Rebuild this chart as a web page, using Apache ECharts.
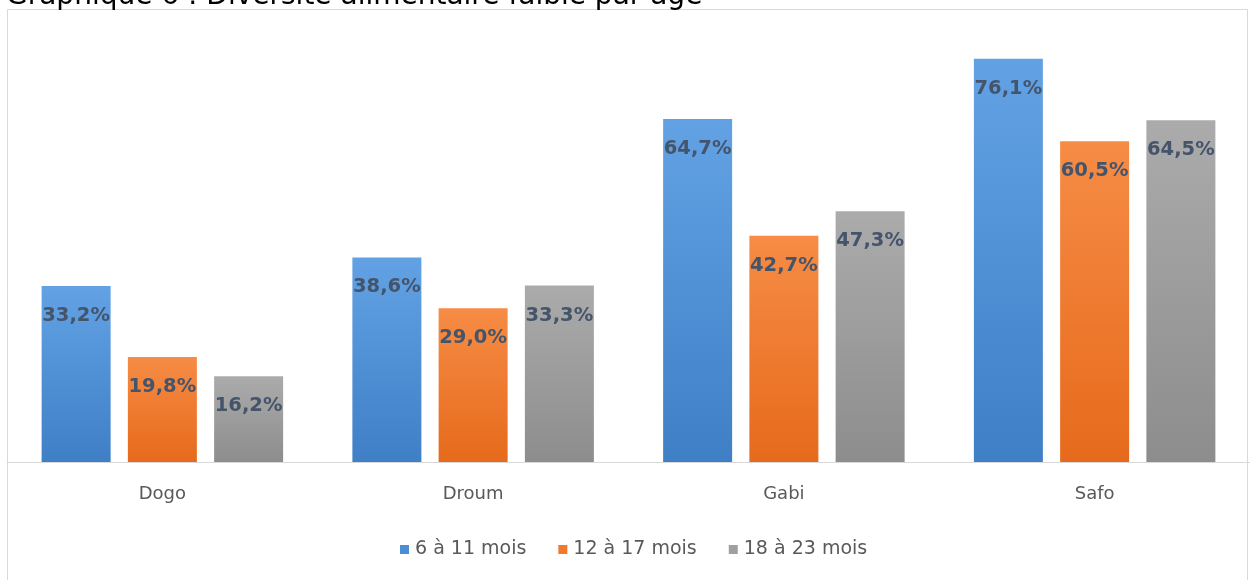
<!DOCTYPE html>
<html>
<head>
<meta charset="utf-8">
<script src="https://cdn.jsdelivr.net/npm/echarts@6/dist/echarts.min.js"></script>
<style>
  html, body { margin: 0; padding: 0; background: #ffffff; }
  #chart { width: 1250px; height: 580px; }
</style>
</head>
<body>
<div id="chart"></div>
<script>
// Diversité alimentaire faible, par localité et tranche d'âge (%)
const categories = ['Dogo', 'Droum', 'Gabi', 'Safo'];
const seriesNames = ['6 à 11 mois', '12 à 17 mois', '18 à 23 mois'];
const age6to11 = [33.2, 38.6, 64.7, 76.1];
const age12to17 = [19.8, 29.0, 42.7, 60.5];
const age18to23 = [16.2, 33.3, 47.3, 64.5];

const chart = echarts.init(document.getElementById('chart'), null, { renderer: 'canvas' });

function grad(top, bottom) {
  return new echarts.graphic.LinearGradient(0, 0, 0, 1, [
    { offset: 0, color: top },
    { offset: 1, color: bottom }
  ]);
}

const palette = [
  grad('#62a2e4', '#3e7fc6'),
  grad('#f68c45', '#e66a1c'),
  grad('#ababab', '#8d8d8d')
];
const legendColors = ['#4a8fd6', '#ef7a2c', '#a0a0a0'];

function makeSeries(name, values, idx) {
  return {
    name: name,
    type: 'bar',
    data: values,
    barWidth: 69,
    barGap: '25%',
    itemStyle: { color: palette[idx] },
    label: {
      show: true,
      position: 'insideTop',
      distance: 20,
      color: '#44546a',
      fontFamily: 'DejaVu Sans',
      fontWeight: 'bold',
      fontSize: 19.5,
      formatter: p => p.value.toFixed(1).replace('.', ',') + '%'
    }
  };
}

chart.setOption({
  animation: false,
  backgroundColor: '#ffffff',
  color: legendColors,
  title: {
    text: 'Graphique 6 : Diversité alimentaire faible par âge',
    left: 1,
    top: -22,
    textStyle: { fontFamily: 'DejaVu Sans', fontWeight: 'normal', fontSize: 28, color: '#000000' }
  },
  graphic: [{
    type: 'rect',
    shape: { x: 7.5, y: 9.5, width: 1240, height: 600 },
    style: { fill: 'none', stroke: '#d9d9d9', lineWidth: 1 },
    silent: true,
    z: -1
  }],
  legend: {
    data: seriesNames.map((n, i) => ({ name: n, itemStyle: { color: legendColors[i] } })),
    bottom: 16,
    left: 395,
    itemWidth: 9,
    itemHeight: 9,
    itemGap: 32,
    icon: 'rect',
    textStyle: { fontFamily: 'DejaVu Sans', fontSize: 19, color: '#595959', padding: [0, 0, 0, 1] }
  },
  grid: { left: 7, width: 1244, top: 38, height: 424, containLabel: false },
  xAxis: {
    type: 'category',
    data: categories,
    axisTick: { show: false },
    axisLine: { lineStyle: { color: '#d9d9d9', width: 1 } },
    axisLabel: { color: '#595959', fontFamily: 'DejaVu Sans', fontSize: 18, margin: 23 }
  },
  yAxis: {
    type: 'value',
    min: 0,
    max: 80,
    show: false,
    splitLine: { show: false }
  },
  series: [
    makeSeries(seriesNames[0], age6to11, 0),
    makeSeries(seriesNames[1], age12to17, 1),
    makeSeries(seriesNames[2], age18to23, 2)
  ]
});
</script>
</body>
</html>
